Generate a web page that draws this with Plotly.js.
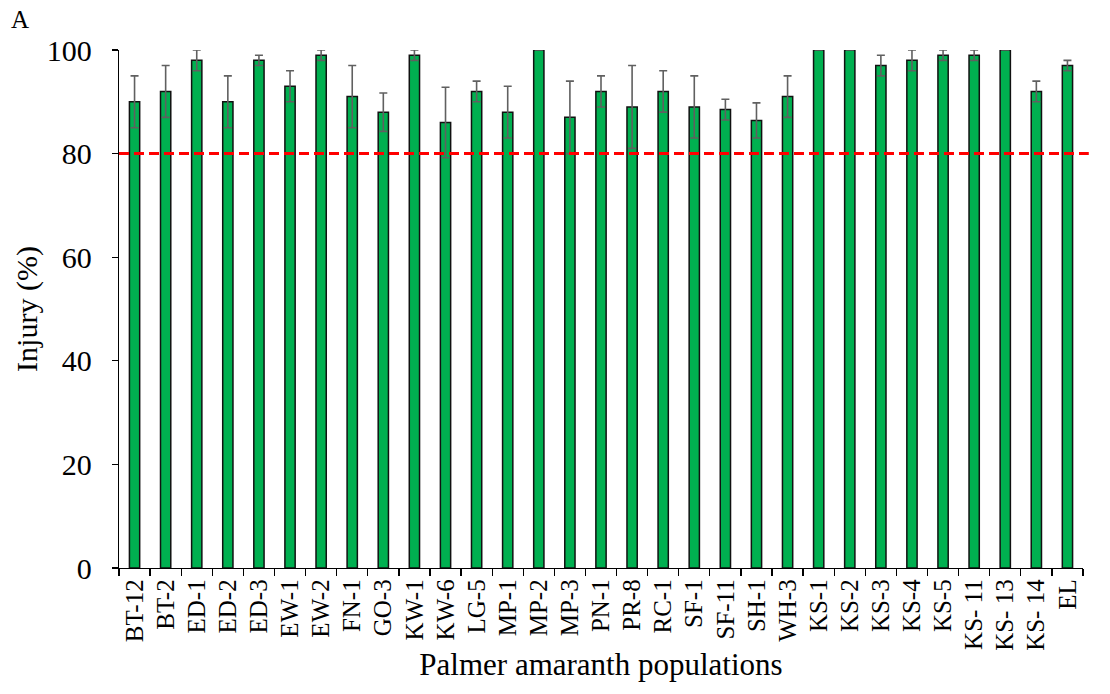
<!DOCTYPE html>
<html>
<head>
<meta charset="utf-8">
<script src="https://cdn.plot.ly/plotly-3.0.1.min.js"></script>
<style>html,body{margin:0;padding:0;background:#fff;}#chart{width:1110px;height:694px;}</style>
</head>
<body>
<div id="chart"></div>
<script>
const populations = ["BT-12","BT-2","ED-1","ED-2","ED-3","EW-1","EW-2","FN-1","GO-3","KW-1","KW-6","LG-5","MP-1","MP-2","MP-3","PN-1","PR-8","RC-1","SF-1","SF-11","SH-1","WH-3","KS-1","KS-2","KS-3","KS-4","KS-5","KS- 11","KS- 13","KS- 14","EL"];
const injury = [90,92,98,90,98,93,99,91,88,99,86,92,88,100,87,92,89,92,89,88.5,86.4,91,100,100,97,98,99,99,100,92,97];
const injuryErr = [5,5,2,5,1,3,1,6,3.7,1,6.8,2,5,0,7,3,8,4,6,2,3.4,4,0,0,2,2,1,1,0,2,1];
const threshold = 80;
const yTicks = [0,20,40,60,80,100];

const serif = "Liberation Serif, Times New Roman, serif";

const trace = {
  type: "bar",
  x: populations,
  y: injury,
  width: 0.33,
  marker: {color: "#00B050", line: {color: "#111", width: 1.5}},
  error_y: {type: "data", array: injuryErr, visible: true, color: "#606060", thickness: 1.6, width: 4},
  hoverinfo: "x+y"
};

const layout = {
  width: 1110, height: 694,
  margin: {l: 119, r: 27, t: 50, b: 126},
  paper_bgcolor: "#fff", plot_bgcolor: "#fff",
  showlegend: false,
  font: {family: serif, color: "#000"},
  xaxis: {
    type: "category",
    showline: true, linecolor: "#000", linewidth: 1.3,
    ticks: "outside", ticklen: 7, tickcolor: "#000", tickwidth: 1.3,
    tickson: "boundaries",
    tickangle: -90,
    tickfont: {family: serif, size: 25, color: "#000"},
    showgrid: false, zeroline: false,
    title: {text: "Palmer amaranth populations", font: {family: serif, size: 31, color: "#000"}, standoff: 3}
  },
  yaxis: {
    range: [0, 100],
    tickvals: yTicks,
    showline: true, linecolor: "#000", linewidth: 1.3,
    ticks: "outside", ticklen: 6, tickcolor: "#000", tickwidth: 1.3,
    ticklabelstandoff: 14,
    tickfont: {family: serif, size: 30, color: "#000"},
    showgrid: false, zeroline: false,
    title: {text: "Injury (%)", font: {family: serif, size: 30, color: "#000"}, standoff: 0}
  },
  shapes: [{
    type: "line", xref: "paper", yref: "y",
    x0: 0, x1: 1.006, y0: threshold, y1: threshold,
    line: {color: "#FF0000", width: 3, dash: "10px,5px"}
  }],
  annotations: [{
    text: "A", xref: "paper", yref: "paper",
    x: -110/964, y: 1 + 31/518, xanchor: "left", yanchor: "middle",
    showarrow: false, font: {family: serif, size: 25, color: "#000"}
  }]
};

Plotly.newPlot("chart", [trace], layout, {displayModeBar: false, staticPlot: true});
</script>
</body>
</html>
